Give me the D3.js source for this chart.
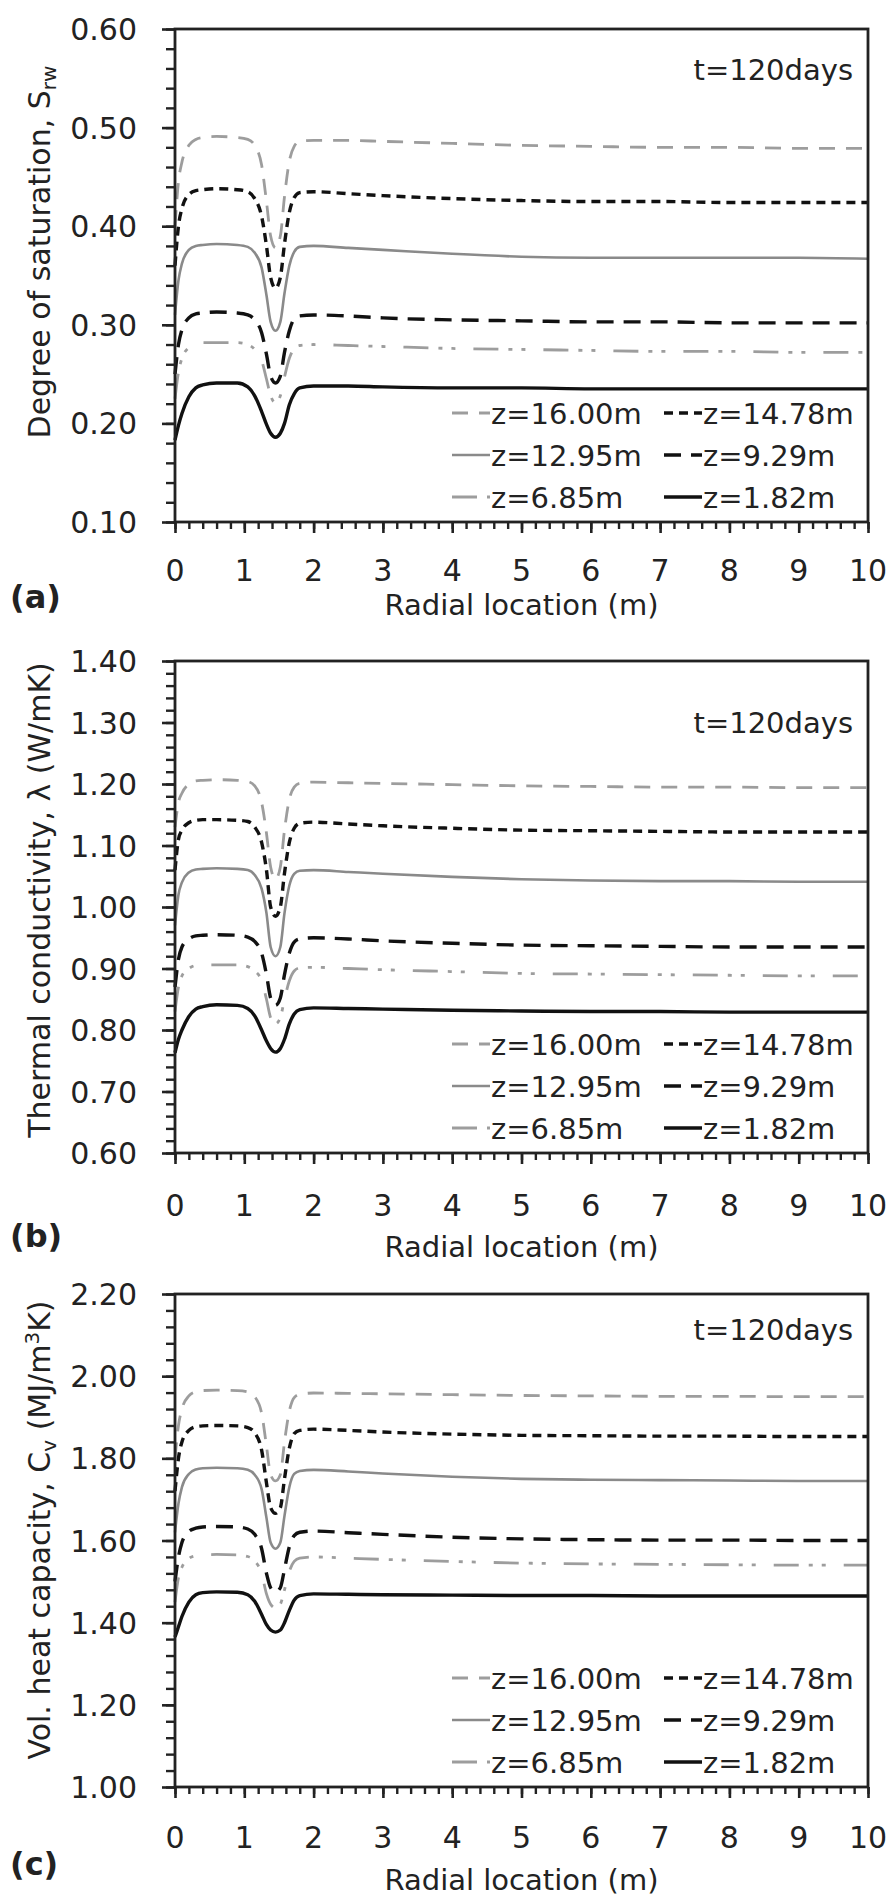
<!DOCTYPE html>
<html><head><meta charset="utf-8">
<script src="https://cdn.jsdelivr.net/npm/d3@7"></script>
<style>body{margin:0;background:#fff}svg{display:block}text{font-family:"DejaVu Sans",sans-serif;fill:#222}</style>
</head><body><svg id="c" width="894" height="1900"></svg>
<script>
// ---------- data ----------
const radial = [0,0.05,0.1,0.2,0.3,0.4,0.6,0.9,1.05,1.15,1.25,1.32,1.38,1.45,1.52,1.58,1.65,1.72,1.8,2.0,2.5,3,4,5,6,7,8,9,10];
const seriesNames = ["z=16.00m","z=14.78m","z=12.95m","z=9.29m","z=6.85m","z=1.82m"];

// (a) degree of saturation
const satZ1600 = [0.40,0.445,0.465,0.482,0.488,0.490,0.491,0.490,0.488,0.482,0.462,0.425,0.39,0.378,0.39,0.43,0.466,0.481,0.486,0.487,0.487,0.486,0.484,0.482,0.481,0.480,0.480,0.479,0.479];
const satZ1478 = [0.36,0.40,0.418,0.432,0.436,0.437,0.438,0.437,0.435,0.428,0.41,0.38,0.348,0.337,0.348,0.382,0.414,0.429,0.434,0.435,0.433,0.431,0.428,0.426,0.425,0.425,0.424,0.424,0.424];
const satZ1295 = [0.31,0.345,0.362,0.376,0.38,0.381,0.382,0.381,0.379,0.373,0.358,0.33,0.303,0.294,0.303,0.332,0.36,0.374,0.379,0.380,0.378,0.376,0.372,0.369,0.368,0.368,0.368,0.368,0.367];
const satZ929  = [0.25,0.28,0.295,0.307,0.311,0.312,0.313,0.312,0.31,0.305,0.292,0.27,0.248,0.241,0.248,0.272,0.294,0.306,0.309,0.310,0.309,0.307,0.305,0.304,0.303,0.303,0.302,0.302,0.302];
const satZ685  = [0.225,0.252,0.266,0.277,0.281,0.282,0.282,0.282,0.28,0.275,0.264,0.245,0.228,0.221,0.228,0.247,0.266,0.276,0.279,0.280,0.279,0.278,0.276,0.275,0.274,0.273,0.273,0.272,0.272];
const satZ182  = [0.183,0.198,0.21,0.227,0.236,0.239,0.241,0.241,0.237,0.228,0.212,0.199,0.19,0.186,0.19,0.2,0.219,0.23,0.236,0.238,0.238,0.237,0.236,0.236,0.235,0.235,0.235,0.235,0.235];

// (b) thermal conductivity
const lamZ1600 = [1.13,1.17,1.185,1.200,1.205,1.206,1.207,1.206,1.204,1.197,1.17,1.12,1.065,1.045,1.065,1.125,1.175,1.195,1.201,1.203,1.202,1.201,1.199,1.197,1.196,1.195,1.195,1.194,1.194];
const lamZ1478 = [1.06,1.11,1.125,1.137,1.141,1.142,1.142,1.141,1.139,1.13,1.105,1.06,1.00,0.985,1.0,1.055,1.105,1.128,1.136,1.138,1.135,1.132,1.128,1.125,1.124,1.123,1.122,1.122,1.122];
const lamZ1295 = [0.97,1.02,1.04,1.056,1.061,1.062,1.063,1.062,1.06,1.052,1.03,0.99,0.935,0.92,0.935,0.99,1.035,1.054,1.059,1.06,1.057,1.054,1.049,1.045,1.043,1.042,1.042,1.041,1.041];
const lamZ929  = [0.87,0.915,0.935,0.948,0.953,0.954,0.955,0.954,0.951,0.944,0.925,0.89,0.852,0.84,0.852,0.89,0.925,0.943,0.948,0.95,0.948,0.945,0.941,0.938,0.937,0.936,0.935,0.935,0.935];
const lamZ685  = [0.83,0.87,0.888,0.9,0.905,0.906,0.906,0.906,0.903,0.896,0.88,0.85,0.82,0.81,0.82,0.85,0.88,0.896,0.901,0.902,0.9,0.898,0.895,0.892,0.891,0.89,0.889,0.888,0.888];
const lamZ182  = [0.763,0.785,0.8,0.822,0.834,0.838,0.841,0.840,0.835,0.823,0.8,0.782,0.77,0.764,0.77,0.785,0.81,0.826,0.833,0.836,0.835,0.834,0.832,0.831,0.83,0.83,0.829,0.829,0.829];

// (c) volumetric heat capacity
const cvZ1600 = [1.80,1.88,1.92,1.952,1.962,1.965,1.966,1.965,1.962,1.95,1.91,1.83,1.76,1.745,1.76,1.84,1.915,1.948,1.956,1.959,1.958,1.957,1.955,1.953,1.952,1.951,1.951,1.95,1.95];
const cvZ1478 = [1.72,1.80,1.84,1.868,1.877,1.879,1.88,1.879,1.875,1.862,1.82,1.74,1.68,1.666,1.68,1.75,1.825,1.86,1.868,1.871,1.868,1.864,1.859,1.856,1.855,1.854,1.854,1.853,1.853];
const cvZ1295 = [1.62,1.69,1.73,1.762,1.773,1.776,1.777,1.776,1.772,1.76,1.725,1.655,1.595,1.58,1.595,1.66,1.73,1.762,1.769,1.772,1.768,1.763,1.755,1.75,1.748,1.747,1.746,1.745,1.745];
const cvZ929  = [1.50,1.56,1.595,1.622,1.63,1.633,1.634,1.633,1.628,1.615,1.58,1.52,1.485,1.475,1.485,1.53,1.585,1.612,1.62,1.623,1.619,1.615,1.608,1.604,1.602,1.601,1.601,1.6,1.6];
const cvZ685  = [1.45,1.51,1.535,1.556,1.563,1.565,1.566,1.565,1.561,1.55,1.52,1.47,1.445,1.436,1.445,1.48,1.525,1.549,1.557,1.56,1.557,1.554,1.549,1.545,1.543,1.542,1.541,1.54,1.54];
const cvZ182  = [1.365,1.39,1.415,1.45,1.468,1.473,1.475,1.474,1.468,1.452,1.42,1.395,1.382,1.377,1.382,1.40,1.43,1.455,1.466,1.47,1.469,1.468,1.467,1.466,1.466,1.465,1.465,1.465,1.465];

const xTicks = [0,1,2,3,4,5,6,7,8,9,10];
const yTicksA = [0.10,0.20,0.30,0.40,0.50,0.60];
const yTicksB = [0.60,0.70,0.80,0.90,1.00,1.10,1.20,1.30,1.40];
const yTicksC = [1.00,1.20,1.40,1.60,1.80,2.00,2.20];
const timeLabel = "t=120days";
const xTitle = "Radial location (m)";

// ---------- styles ----------
const styles = [
  {color:"#9d9d9d", width:2.8, dash:"16,11"},
  {color:"#111",    width:3.4, dash:"9,6"},
  {color:"#8a8a8a", width:2.6, dash:null},
  {color:"#111",    width:3.4, dash:"17,10"},
  {color:"#9d9d9d", width:2.8, dash:"25,10,4,9,4,18"},
  {color:"#111",    width:3.4, dash:null}
];

const panels = [
  {tag:"(a)", top:29, bottom:522, domain:[0.10,0.60], ticks:yTicksA, minor:0.02,
   series:[satZ1600,satZ1478,satZ1295,satZ929,satZ685,satZ182],
   xLab:581, xTit:615, tagY:608, tY:80, yTitY:252},
  {tag:"(b)", top:661, bottom:1153, domain:[0.60,1.40], ticks:yTicksB, minor:0.02,
   series:[lamZ1600,lamZ1478,lamZ1295,lamZ929,lamZ685,lamZ182],
   xLab:1216, xTit:1257, tagY:1247, tY:733, yTitY:900},
  {tag:"(c)", top:1294, bottom:1787, domain:[1.00,2.20], ticks:yTicksC, minor:0.04,
   series:[cvZ1600,cvZ1478,cvZ1295,cvZ929,cvZ685,cvZ182],
   xLab:1848, xTit:1890, tagY:1875, tY:1340, yTitY:1530}
];

const svg = d3.select("#c");
const L = 175, R = 868;
const x = d3.scaleLinear().domain([0,10]).range([L,R]);
const xMinor = d3.range(0, 10.0001, 0.2).map(v=>+v.toFixed(2));

panels.forEach((p,pi)=>{
  const y = d3.scaleLinear().domain(p.domain).range([p.bottom,p.top]);
  const g = svg.append("g");
  const nMinor = Math.round((p.domain[1]-p.domain[0])/p.minor);
  const yMinor = d3.range(nMinor+1).map(i=>+(p.domain[0]+i*p.minor).toFixed(3));

  const line = d3.line().x((d,i)=>x(radial[i])).y(d=>y(d)).curve(d3.curveMonotoneX);
  p.series.forEach((s,si)=>{
    const st = styles[si];
    g.append("path").attr("d",line(s)).attr("fill","none")
      .attr("stroke",st.color).attr("stroke-width",st.width)
      .attr("stroke-dasharray",st.dash).attr("stroke-linejoin","round");
  });

  const yAxMinor = d3.axisLeft(y).tickValues(yMinor).tickSize(9).tickFormat("");
  g.append("g").attr("transform",`translate(${L},0)`).call(yAxMinor)
    .call(a=>{a.select(".domain").remove();a.selectAll("line").attr("stroke","#222").attr("stroke-width",2.4);});
  const yAx = d3.axisLeft(y).tickValues(p.ticks).tickSize(13).tickFormat("");
  g.append("g").attr("transform",`translate(${L},0)`).call(yAx)
    .call(a=>{a.select(".domain").remove();a.selectAll("line").attr("stroke","#222").attr("stroke-width",2.6);});
  const xAxMinor = d3.axisBottom(x).tickValues(xMinor).tickSize(7).tickFormat("");
  g.append("g").attr("transform",`translate(0,${p.bottom})`).call(xAxMinor)
    .call(a=>{a.select(".domain").remove();a.selectAll("line").attr("stroke","#222").attr("stroke-width",2.4);});
  const xAx = d3.axisBottom(x).tickValues(xTicks).tickSize(11).tickFormat("");
  g.append("g").attr("transform",`translate(0,${p.bottom})`).call(xAx)
    .call(a=>{a.select(".domain").remove();a.selectAll("line").attr("stroke","#222").attr("stroke-width",2.6);});

  g.append("rect").attr("x",L).attr("y",p.top).attr("width",R-L).attr("height",p.bottom-p.top)
    .attr("fill","none").attr("stroke","#222").attr("stroke-width",2.8);

  g.selectAll(".yl").data(p.ticks).join("text")
    .attr("x",137).attr("y",d=>y(d)+11).attr("text-anchor","end")
    .attr("font-size",30).text(d=>d.toFixed(2));
  g.selectAll(".xl").data(xTicks).join("text")
    .attr("x",d=>x(d)).attr("y",p.xLab).attr("text-anchor","middle")
    .attr("font-size",30).text(d=>d);

  g.append("text").attr("x",(L+R)/2).attr("y",p.xTit).attr("text-anchor","middle")
    .attr("font-size",29).text(xTitle);
  g.append("text").attr("x",10).attr("y",p.tagY).attr("font-size",32).attr("font-weight","bold").text(p.tag);
  g.append("text").attr("x",853).attr("y",p.tY).attr("text-anchor","end").attr("font-size",29).text(timeLabel);

  const yt = g.append("text").attr("transform",`translate(50,${p.yTitY}) rotate(-90)`)
    .attr("text-anchor","middle").attr("font-size",30);
  if(pi===0){
    yt.append("tspan").text("Degree of saturation, S");
    yt.append("tspan").attr("font-size",20).attr("dy",6).text("rw");
  } else if(pi===1){
    yt.append("tspan").text("Thermal conductivity, λ (W/mK)");
  } else {
    yt.append("tspan").text("Vol. heat capacity, C");
    yt.append("tspan").attr("font-size",20).attr("dy",6).text("v");
    yt.append("tspan").attr("dy",-6).text(" (MJ/m");
    yt.append("tspan").attr("font-size",20).attr("dy",-11).text("3");
    yt.append("tspan").attr("dy",11).text("K)");
  }

  const rows = [p.bottom-109, p.bottom-67, p.bottom-25];
  const order = [[0,0,0],[1,1,0],[2,0,1],[3,1,1],[4,0,2],[5,1,2]];
  order.forEach(([si,col,row])=>{
    const st = styles[si];
    const x0 = col===0 ? 452 : 664;
    const yy = rows[row];
    g.append("line").attr("x1",x0).attr("x2",x0+38).attr("y1",yy).attr("y2",yy)
      .attr("stroke",st.color).attr("stroke-width",st.width).attr("stroke-dasharray",st.dash);
    g.append("text").attr("x",x0+39).attr("y",yy+11).attr("font-size",29).text(seriesNames[si]);
  });
});
</script></body></html>
